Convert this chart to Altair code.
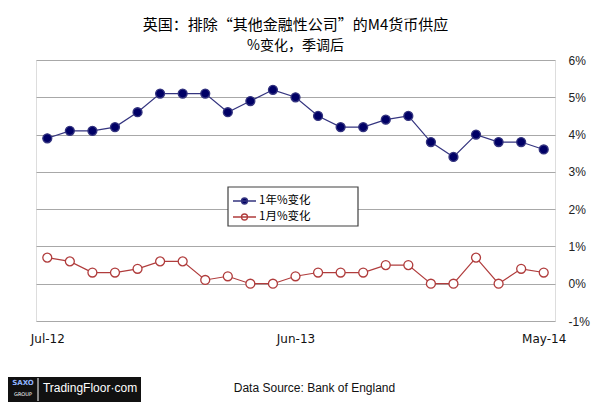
import altair as alt
import pandas as pd

months = ["Jul-12", "Aug-12", "Sep-12", "Oct-12", "Nov-12", "Dec-12", "Jan-13", "Feb-13",
          "Mar-13", "Apr-13", "May-13", "Jun-13", "Jul-13", "Aug-13", "Sep-13", "Oct-13",
          "Nov-13", "Dec-13", "Jan-14", "Feb-14", "Mar-14", "Apr-14", "May-14"]
annual = [3.9, 4.1, 4.1, 4.2, 4.6, 5.1, 5.1, 5.1, 4.6, 4.9, 5.2, 5.0, 4.5, 4.2, 4.2, 4.4,
          4.5, 3.8, 3.4, 4.0, 3.8, 3.8, 3.6]
monthly = [0.7, 0.6, 0.3, 0.3, 0.4, 0.6, 0.6, 0.1, 0.2, 0.0, 0.0, 0.2, 0.3, 0.3, 0.3, 0.5,
           0.5, 0.0, 0.0, 0.7, 0.0, 0.4, 0.3]
series_names = ["1年%变化", "1月%变化"]
x_labels = ["Jul-12", "Jun-13", "May-14"]
y_ticks = [-1, 0, 1, 2, 3, 4, 5, 6]

title_text = "英国：排除“其他金融性公司”的M4货币供应"
subtitle_text = "%变化，季调后"
source_text = "Data Source: Bank of England"

rows = []
for m, a in zip(months, annual):
    rows.append({"month": m, "value": a, "series": series_names[0]})
for m, v in zip(months, monthly):
    rows.append({"month": m, "value": v, "series": series_names[1]})
df = pd.DataFrame(rows)

CJK = "Noto Sans CJK SC"
GRID = "#a8a8a8"

sym_path = "M-1,0L3.6,0M1.9,0A0.6,0.6,0,1,1,0.7,0A0.6,0.6,0,1,1,1.9,0Z"

legend = alt.Legend(
    orient="none", legendX=191, legendY=130, title=None,
    padding=5,
    symbolType=sym_path, symbolSize=100, symbolStrokeWidth=1.3,
    labelFont=CJK, labelFontSize=11.5, labelColor="#000000", labelOffset=15,
    rowPadding=4,
)

stroke_enc = alt.Stroke("series:N",
                        scale=alt.Scale(domain=series_names, range=["#34347f", "#b03c3c"]),
                        legend=legend)
fill_enc = alt.Fill("series:N",
                    scale=alt.Scale(domain=series_names, range=["#000066", "#ffffff"]),
                    legend=legend)

x_enc = alt.X("month:N", sort=months,
              scale=alt.Scale(type="point", padding=0.5),
              axis=alt.Axis(values=x_labels, labelAngle=0, ticks=False, domain=False,
                            grid=False, labelFont="DejaVu Sans", labelFontSize=12,
                            labelColor="#111111", labelPadding=12,
                            title=source_text, titleFont="Liberation Sans",
                            titleFontSize=12, titleFontWeight="normal",
                            titleColor="#111111", titleX=278, titleY=66,
                            titleAlign="center", titleBaseline="middle"))
y_enc = alt.Y("value:Q",
              scale=alt.Scale(domain=[-1, 6], nice=False, zero=False),
              axis=alt.Axis(orient="right", values=y_ticks, ticks=False, domain=False,
                            grid=True, gridColor=GRID, gridWidth=1,
                            labelExpr="datum.value + '%'", labelFont="Liberation Sans",
                            labelFontSize=12, labelColor="#222222", labelPadding=13,
                            labelAlign="left", title=None))

base = alt.Chart(df)
lines = base.mark_line(strokeWidth=1.2).encode(
    x=x_enc, y=y_enc, stroke=stroke_enc, detail="series:N")
points = base.mark_circle(size=80, opacity=1, strokeWidth=1.3).encode(
    x=x_enc, y=y_enc, stroke=stroke_enc, fill=fill_enc)

one = alt.Chart(pd.DataFrame({"k": [0]}))
legend_box = one.mark_rect(fill="#ffffff", stroke="#404040", strokeWidth=1.2).encode(
    x=alt.value(192), x2=alt.value(322), y=alt.value(127), y2=alt.value(166))
logo_box = one.mark_rect(color="#111111").encode(
    x=alt.value(-28), x2=alt.value(105), y=alt.value(317), y2=alt.value(342))
logo_sep = one.mark_rule(color="#ffffff", strokeWidth=1).encode(
    x=alt.value(2), y=alt.value(318), y2=alt.value(341))
logo_text = one.mark_text(color="#ffffff", font="Liberation Sans", fontSize=12,
                          align="center", baseline="middle").encode(
    x=alt.value(54), y=alt.value(328), text=alt.value("TradingFloor·com"))
saxo_text = one.mark_text(color="#8fb4ff", font="DejaVu Sans", fontSize=7,
                          fontWeight="bold", align="center", baseline="middle").encode(
    x=alt.value(-13), y=alt.value(323), text=alt.value("SAXO"))
group_text = one.mark_text(color="#ffffff", font="DejaVu Sans", fontSize=5,
                           align="center", baseline="middle").encode(
    x=alt.value(-13), y=alt.value(334), text=alt.value("GROUP"))

chart = alt.layer(lines, points, legend_box, logo_box, logo_sep, logo_text,
                  saxo_text, group_text).properties(
    width=519, height=261,
    title=alt.TitleParams(text=title_text, subtitle=subtitle_text, anchor="middle",
                          font=CJK, fontSize=15, fontWeight="normal", color="#000000",
                          subtitleFont=CJK, subtitleFontSize=14, subtitleColor="#000000",
                          subtitlePadding=6, offset=1),
    autosize=alt.AutoSizeParams(type="none"),
    padding={"left": 28, "top": 52, "right": 45, "bottom": 83},
).configure_view(stroke=GRID, strokeWidth=1).configure(background="white")

chart.save("out.html", embed_options={"renderer": "svg", "actions": False})
